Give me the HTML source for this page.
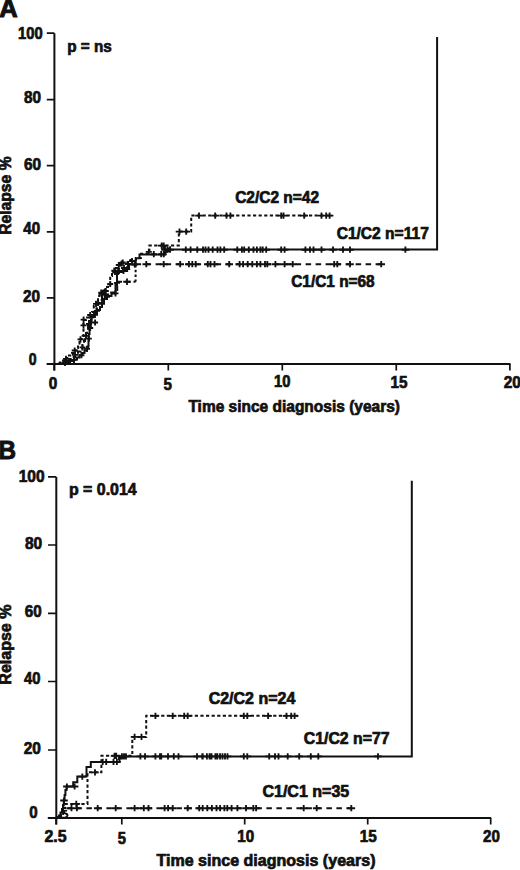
<!DOCTYPE html>
<html><head><meta charset="utf-8"><style>
html,body{margin:0;padding:0;background:#fff;}
body{width:520px;height:870px;overflow:hidden;}
svg{display:block;}
</style></head><body>
<svg width="520" height="870" viewBox="0 0 520 870" font-family='"Liberation Sans", sans-serif' font-weight="bold" fill="#111">
<path d="M54.4,33.3V370.5M46.7,364.0H510.5" stroke="#111" stroke-width="2.0" fill="none"/>
<path d="M46.8,33.2H54.4M46.8,99.6H54.4M46.8,165.6H54.4M46.8,231.8H54.4M46.8,297.8H54.4M46.8,364.0H54.4M54.2,364.0V370.5M168.3,364.0V370.5M282.3,364.0V370.5M396.25,364.0V370.5M509.9,364.0V370.5" stroke="#111" stroke-width="1.7" fill="none"/>
<text x="18.09" y="38.60" font-size="16" textLength="24.61" lengthAdjust="spacingAndGlyphs" stroke="#111" stroke-width="0.7">100</text>
<text x="24.11" y="103.30" font-size="16" textLength="17.01" lengthAdjust="spacingAndGlyphs" stroke="#111" stroke-width="0.7">80</text>
<text x="24.05" y="169.70" font-size="16" textLength="17.07" lengthAdjust="spacingAndGlyphs" stroke="#111" stroke-width="0.7">60</text>
<text x="23.26" y="234.40" font-size="16" textLength="16.75" lengthAdjust="spacingAndGlyphs" stroke="#111" stroke-width="0.7">40</text>
<text x="22.98" y="301.80" font-size="16" textLength="17.04" lengthAdjust="spacingAndGlyphs" stroke="#111" stroke-width="0.7">20</text>
<text x="28.64" y="364.60" font-size="16" textLength="7.83" lengthAdjust="spacingAndGlyphs" stroke="#111" stroke-width="0.7">0</text>
<text x="48.79" y="388.70" font-size="16" textLength="8.53" lengthAdjust="spacingAndGlyphs" stroke="#111" stroke-width="0.7">0</text>
<text x="163.62" y="389.90" font-size="16" textLength="8.41" lengthAdjust="spacingAndGlyphs" stroke="#111" stroke-width="0.7">5</text>
<text x="273.99" y="387.30" font-size="16" textLength="16.41" lengthAdjust="spacingAndGlyphs" stroke="#111" stroke-width="0.7">10</text>
<text x="390.55" y="387.90" font-size="16" textLength="16.98" lengthAdjust="spacingAndGlyphs" stroke="#111" stroke-width="0.7">15</text>
<text x="503.68" y="387.90" font-size="16" textLength="17.15" lengthAdjust="spacingAndGlyphs" stroke="#111" stroke-width="0.7">20</text>
<path d="M54.2,364.0H60.0V363.5H65.0V362.5H70.0V361.0H74.0V359.5H77.0V357.5H79.5V355.2H82.0V353.0H84.5V350.5H87.0V348.0H88.0V346.5H88.5V340.0H88.8V334.0H89.5V328.0H90.8V322.0H91.5V316.0H94.0V313.0H97.0V310.0H100.0V307.0H102.0V303.0H104.0V299.0H107.0V296.0H111.5V293.5H115.5V284.0H117.0V272.0H123.0V269.0H129.0V264.5H135.7V258.2H139.5V254.4H165.0V249.6H437.1V37.0" stroke="#111" stroke-width="2.0" fill="none"/>
<path d="M54.2,364.0H57.0V363.5H60.0V362.5H63.0V360.5H66.0V358.0H69.0V355.5H72.0V353.0H74.5V350.5H76.5V348.0H78.0V345.0H79.5V342.0H80.5V339.0H82.6V336.0H83.5V320.0H86.0V317.5H89.0V315.0H92.0V312.0H93.8V306.0H96.0V301.0H98.0V296.0H99.5V293.0H102.0V290.0H105.0V287.0H108.0V285.0H110.2V276.0H112.0V272.0H115.0V268.0H118.0V265.5H122.0V262.5H128.0V260.0H136.0V258.0H141.0V253.8H149.4V245.6H178.8V231.6H191.2V215.6H332.0" stroke="#111" stroke-width="2.0" fill="none" stroke-dasharray="3.2 2.4"/>
<path d="M54.2,364.0H59.0V363.5H63.0V362.5H66.0V361.0H69.0V359.0H72.0V357.0H75.0V354.5H78.0V351.5H80.5V348.5H82.5V345.0H84.0V341.0H85.0V337.0H86.0V333.0H87.0V329.0H88.0V325.0H89.0V321.0H91.0V318.0H93.0V315.0H95.0V311.0H96.5V307.0H98.0V303.0H100.0V300.0H102.0V297.0H105.0V294.5H110.0V292.5H117.2V281.8H135.6" stroke="#111" stroke-width="2.0" fill="none" stroke-dasharray="5.5 3"/>
<path d="M135.6,281.8V264.2" stroke="#111" stroke-width="2.0" fill="none" stroke-dasharray="2.4 2.4"/>
<path d="M135.6,264.2H382.7" stroke="#111" stroke-width="2.0" fill="none" stroke-dasharray="5.5 4.5"/>
<path d="M185.8,246.6V252.8M182.0,249.7H189.6M190.6,246.6V252.8M186.8,249.7H194.4M197.3,246.6V252.8M193.5,249.7H201.1M203.0,246.6V252.8M199.2,249.7H206.8M205.5,246.6V252.8M201.7,249.7H209.3M208.5,246.6V252.8M204.7,249.7H212.3M212.7,246.6V252.8M208.9,249.7H216.5M217.5,246.6V252.8M213.7,249.7H221.3M220.4,246.6V252.8M216.6,249.7H224.2M224.2,246.6V252.8M220.4,249.7H228.0M237.3,246.6V252.8M233.5,249.7H241.1M241.9,246.6V252.8M238.1,249.7H245.7M244.2,246.6V252.8M240.4,249.7H248.0M248.8,246.6V252.8M245.0,249.7H252.6M253.5,246.6V252.8M249.7,249.7H257.3M256.9,246.6V252.8M253.1,249.7H260.7M260.4,246.6V252.8M256.6,249.7H264.2M262.7,246.6V252.8M258.9,249.7H266.5M266.2,246.6V252.8M262.4,249.7H270.0M281.2,246.6V252.8M277.4,249.7H285.0M284.6,246.6V252.8M280.8,249.7H288.4M305.4,246.6V252.8M301.6,249.7H309.2M310.0,246.6V252.8M306.2,249.7H313.8M313.5,246.6V252.8M309.7,249.7H317.3M321.5,246.6V252.8M317.7,249.7H325.3M333.0,246.6V252.8M329.2,249.7H336.8M343.0,246.6V252.8M339.2,249.7H346.8M350.0,246.6V252.8M346.2,249.7H353.8M405.4,246.6V252.8M401.6,249.7H409.2M165.0,246.6V252.8M161.2,249.7H168.8M167.5,246.6V252.8M163.7,249.7H171.3M170.0,246.6V252.8M166.2,249.7H173.8M226.5,212.5V218.7M222.7,215.6H230.3M230.4,212.5V218.7M226.6,215.6H234.2M281.2,212.5V218.7M277.4,215.6H285.0M283.5,212.5V218.7M279.7,215.6H287.3M304.2,212.5V218.7M300.4,215.6H308.0M321.5,212.5V218.7M317.7,215.6H325.3M326.2,212.5V218.7M322.4,215.6H330.0M329.6,212.5V218.7M325.8,215.6H333.4M199.0,212.5V218.7M195.2,215.6H202.8M215.2,212.5V218.7M211.4,215.6H219.0M179.5,228.5V234.7M175.7,231.6H183.3M186.2,228.5V234.7M182.4,231.6H190.0M161.7,242.5V248.7M157.9,245.6H165.5M163.7,242.5V248.7M159.9,245.6H167.5M146.3,261.1V267.3M142.5,264.2H150.1M163.7,261.1V267.3M159.9,264.2H167.5M180.2,261.1V267.3M176.4,264.2H184.0M188.9,261.1V267.3M185.1,264.2H192.7M192.3,261.1V267.3M188.5,264.2H196.1M195.7,261.1V267.3M191.9,264.2H199.5M207.8,261.1V267.3M204.0,264.2H211.6M210.5,261.1V267.3M206.7,264.2H214.3M214.5,261.1V267.3M210.7,264.2H218.3M229.2,261.1V267.3M225.4,264.2H233.0M239.6,261.1V267.3M235.8,264.2H243.4M243.1,261.1V267.3M239.3,264.2H246.9M247.7,261.1V267.3M243.9,264.2H251.5M252.3,261.1V267.3M248.5,264.2H256.1M256.9,261.1V267.3M253.1,264.2H260.7M260.4,261.1V267.3M256.6,264.2H264.2M265.0,261.1V267.3M261.2,264.2H268.8M267.3,261.1V267.3M263.5,264.2H271.1M275.4,261.1V267.3M271.6,264.2H279.2M284.6,261.1V267.3M280.8,264.2H288.4M292.7,261.1V267.3M288.9,264.2H296.5M334.2,261.1V267.3M330.4,264.2H338.0M337.3,261.1V267.3M333.5,264.2H341.1M350.0,261.1V267.3M346.2,264.2H353.8M381.2,261.1V267.3M377.4,264.2H385.0M127.0,278.6V284.8M123.2,281.7H130.8M65.0,359.7V365.9M62.0,362.8H68.0M74.0,356.7V362.9M71.0,359.8H77.0M81.4,352.1V358.3M78.4,355.2H84.4M87.0,345.7V351.9M84.0,348.8H90.0M88.8,335.5V341.7M85.8,338.6H91.8M90.2,324.9V331.1M87.2,328.0H93.2M91.5,314.2V320.4M88.5,317.3H94.5M97.0,307.7V313.9M94.0,310.8H100.0M102.0,300.7V306.9M99.0,303.8H105.0M107.0,293.7V299.9M104.0,296.8H110.0M115.5,290.2V296.4M112.5,293.3H118.5M117.0,279.7V285.9M114.0,282.8H120.0M118.2,268.9V275.1M115.2,272.0H121.2M127.2,265.9V272.1M124.2,269.0H130.2M134.7,261.4V267.6M131.7,264.5H137.7M66.2,357.9V364.1M63.2,361.0H69.2M75.0,351.7V357.9M72.0,354.8H78.0M82.5,344.2V350.4M79.5,347.3H85.5M86.0,332.7V338.9M83.0,335.8H89.0M89.0,320.7V326.9M86.0,323.8H92.0M95.0,311.7V317.9M92.0,314.8H98.0M98.2,299.9V306.1M95.2,303.0H101.2M105.0,291.7V297.9M102.0,294.8H108.0M66.0,355.7V361.9M63.0,358.8H69.0M74.7,347.4V353.6M71.7,350.5H77.7M80.5,336.2V342.4M77.5,339.3H83.5M83.5,322.2V328.4M80.5,325.3H86.5M90.2,311.9V318.1M87.2,315.0H93.2M96.0,300.7V306.9M93.0,303.8H99.0M102.0,289.7V295.9M99.0,292.8H105.0M110.2,280.9V287.1M107.2,284.0H113.2M115.0,268.7V274.9M112.0,271.8H118.0M122.7,259.4V265.6M119.7,262.5H125.7M83.6,316.5V322.7M80.6,319.6H86.6M95.1,319.4V325.6M92.1,322.5H98.1M101.5,289.9V296.1M98.5,293.0H104.5M121.7,260.4V266.6M118.7,263.5H124.7M118.8,261.9V268.1M115.8,265.0H121.8M124.0,264.9V271.1M121.0,268.0H127.0M128.0,260.9V267.1M125.0,264.0H131.0M132.0,257.9V264.1M129.0,261.0H135.0M153.8,251.1V257.3M150.8,254.2H156.8M161.2,251.1V257.3M158.2,254.2H164.2M163.8,251.1V257.3M160.8,254.2H166.8M148.8,248.7V254.9M145.8,251.8H151.8M127.0,278.7V284.9M124.0,281.8H130.0M114.3,267.6V273.8M111.3,270.7H117.3M119.0,267.9V274.1M116.0,271.0H122.0M123.5,267.9V274.1M120.5,271.0H126.5M105.8,287.9V294.1M102.8,291.0H108.8M101.2,289.5V295.7M98.2,292.6H104.2" stroke="#111" stroke-width="1.85" fill="none"/>
<text x="-0.81" y="17.30" font-size="25.7" textLength="18.43" lengthAdjust="spacingAndGlyphs" stroke="#111" stroke-width="1.0">A</text>
<text x="67.19" y="51.50" font-size="16" textLength="44.51" lengthAdjust="spacingAndGlyphs" stroke="#111" stroke-width="0.7">p = ns</text>
<text x="235.15" y="202.60" font-size="16" textLength="83.86" lengthAdjust="spacingAndGlyphs" stroke="#111" stroke-width="0.7">C2/C2 n=42</text>
<text x="336.65" y="238.80" font-size="16" textLength="92.15" lengthAdjust="spacingAndGlyphs" stroke="#111" stroke-width="0.7">C1/C2 n=117</text>
<text x="291.25" y="287.00" font-size="16" textLength="83.40" lengthAdjust="spacingAndGlyphs" stroke="#111" stroke-width="0.7">C1/C1 n=68</text>
<text x="188.41" y="412.30" font-size="16.5" textLength="211.56" lengthAdjust="spacingAndGlyphs" stroke="#111" stroke-width="0.7">Time since diagnosis (years)</text>
<text transform="translate(11.30,234.10) rotate(-90)" x="-0.74" y="0" font-size="16.3" textLength="78.45" lengthAdjust="spacingAndGlyphs" stroke="#111" stroke-width="0.7">Relapse %</text>
<path d="M56.3,477V824.6M47.8,818.1H491.2" stroke="#111" stroke-width="2.0" fill="none"/>
<path d="M48,476.9H56.3M48,545.0H56.3M48,613.4H56.3M48,681.5H56.3M48,750.0H56.3M48,818.1H56.3M56.2,818.1V824.6M121.8,818.1V824.6M244.7,818.1V824.6M367.7,818.1V824.6M490.7,818.1V824.6" stroke="#111" stroke-width="1.7" fill="none"/>
<text x="18.64" y="482.40" font-size="16" textLength="25.89" lengthAdjust="spacingAndGlyphs" stroke="#111" stroke-width="0.7">100</text>
<text x="24.90" y="548.80" font-size="16" textLength="17.22" lengthAdjust="spacingAndGlyphs" stroke="#111" stroke-width="0.7">80</text>
<text x="24.85" y="616.80" font-size="16" textLength="16.86" lengthAdjust="spacingAndGlyphs" stroke="#111" stroke-width="0.7">60</text>
<text x="23.96" y="683.70" font-size="16" textLength="16.43" lengthAdjust="spacingAndGlyphs" stroke="#111" stroke-width="0.7">40</text>
<text x="23.68" y="753.80" font-size="16" textLength="17.15" lengthAdjust="spacingAndGlyphs" stroke="#111" stroke-width="0.7">20</text>
<text x="29.19" y="818.20" font-size="16" textLength="8.41" lengthAdjust="spacingAndGlyphs" stroke="#111" stroke-width="0.7">0</text>
<text x="44.46" y="841.70" font-size="16" textLength="22.09" lengthAdjust="spacingAndGlyphs" stroke="#111" stroke-width="0.7">2.5</text>
<text x="117.73" y="843.50" font-size="16" textLength="8.19" lengthAdjust="spacingAndGlyphs" stroke="#111" stroke-width="0.7">5</text>
<text x="237.26" y="841.70" font-size="16" textLength="16.85" lengthAdjust="spacingAndGlyphs" stroke="#111" stroke-width="0.7">10</text>
<text x="359.65" y="841.70" font-size="16" textLength="16.98" lengthAdjust="spacingAndGlyphs" stroke="#111" stroke-width="0.7">15</text>
<text x="483.09" y="841.70" font-size="16" textLength="16.82" lengthAdjust="spacingAndGlyphs" stroke="#111" stroke-width="0.7">20</text>
<path d="M56.3,818.1H57.5V817.0H59.0V815.5H60.5V812.5H62.0V809.0H63.0V805.0H63.8V800.0H64.6V795.0H65.4V790.0H66.5V786.5H73.2V782.2H77.3V776.6H86.5V766.9H90.8V761.9H119.5V756.4H411.8V480.8" stroke="#111" stroke-width="2.0" fill="none"/>
<path d="M56.3,818.1H58.5V817.0H61.0V815.0H62.5V812.0H64.0V808.0H65.0V804.0H87.5V772.3H101.4V755.8H132.3V736.9H146.2V715.8H298.1" stroke="#111" stroke-width="2.0" fill="none" stroke-dasharray="3.2 2.4"/>
<path d="M56.3,818.1H59.0V816.5H61.5V814.0H63.0V811.0H64.0V808.2H352.0" stroke="#111" stroke-width="2.0" fill="none" stroke-dasharray="5.5 4.5"/>
<path d="M61,817.5 C63,818 67,818 67.5,815.5 C68,813 63.5,814 63.5,812 C63.5,810.5 66,810.5 67,811" stroke="#111" stroke-width="1.85" fill="none"/>
<path d="M118,757 L125,754.5 L125,758.5 L118,760 Z" fill="#111"/>
<path d="M164.3,253.6 L164.3,250.2 L171,245.9 L171,251.6 Z" fill="#111"/>
<path d="M121.9,753.2V759.4M118.1,756.3H125.7M124.0,753.2V759.4M120.2,756.3H127.8M126.0,753.2V759.4M122.2,756.3H129.8M140.4,753.2V759.4M136.6,756.3H144.2M145.0,753.2V759.4M141.2,756.3H148.8M155.4,753.2V759.4M151.6,756.3H159.2M160.0,753.2V759.4M156.2,756.3H163.8M161.2,753.2V759.4M157.4,756.3H165.0M168.0,753.2V759.4M164.2,756.3H171.8M173.8,753.2V759.4M170.0,756.3H177.6M178.5,753.2V759.4M174.7,756.3H182.3M197.0,753.2V759.4M193.2,756.3H200.8M202.7,753.2V759.4M198.9,756.3H206.5M209.6,753.2V759.4M205.8,756.3H213.4M215.4,753.2V759.4M211.6,756.3H219.2M202.3,753.2V759.4M198.5,756.3H206.1M206.9,753.2V759.4M203.1,756.3H210.7M211.5,753.2V759.4M207.7,756.3H215.3M217.3,753.2V759.4M213.5,756.3H221.1M220.0,753.2V759.4M216.2,756.3H223.8M222.5,753.2V759.4M218.7,756.3H226.3M225.0,753.2V759.4M221.2,756.3H228.8M227.5,753.2V759.4M223.7,756.3H231.3M243.8,753.2V759.4M240.0,756.3H247.6M247.3,753.2V759.4M243.5,756.3H251.1M269.2,753.2V759.4M265.4,756.3H273.0M275.0,753.2V759.4M271.2,756.3H278.8M278.5,753.2V759.4M274.7,756.3H282.3M287.7,753.2V759.4M283.9,756.3H291.5M299.2,753.2V759.4M295.4,756.3H303.0M310.8,753.2V759.4M307.0,756.3H314.6M318.3,753.2V759.4M314.5,756.3H322.1M378.0,753.2V759.4M374.2,756.3H381.8M155.4,712.7V718.9M151.6,715.8H159.2M172.7,712.7V718.9M168.9,715.8H176.5M184.2,712.7V718.9M180.4,715.8H188.0M187.7,712.7V718.9M183.9,715.8H191.5M243.8,712.7V718.9M240.0,715.8H247.6M247.3,712.7V718.9M243.5,715.8H251.1M268.1,712.7V718.9M264.3,715.8H271.9M286.5,712.7V718.9M282.7,715.8H290.3M291.2,712.7V718.9M287.4,715.8H295.0M294.6,712.7V718.9M290.8,715.8H298.4M134.6,733.8V740.0M130.8,736.9H138.4M141.5,733.8V740.0M137.7,736.9H145.3M71.5,805.1V811.3M67.7,808.2H75.3M76.9,805.1V811.3M73.1,808.2H80.7M97.7,805.1V811.3M93.9,808.2H101.5M115.7,805.1V811.3M111.9,808.2H119.5M134.6,805.1V811.3M130.8,808.2H138.4M143.8,805.1V811.3M140.0,808.2H147.6M148.5,805.1V811.3M144.7,808.2H152.3M164.6,805.1V811.3M160.8,808.2H168.4M168.1,805.1V811.3M164.3,808.2H171.9M172.7,805.1V811.3M168.9,808.2H176.5M187.7,805.1V811.3M183.9,808.2H191.5M199.2,805.1V811.3M195.4,808.2H203.0M202.7,805.1V811.3M198.9,808.2H206.5M207.3,805.1V811.3M203.5,808.2H211.1M211.9,805.1V811.3M208.1,808.2H215.7M216.5,805.1V811.3M212.7,808.2H220.3M220.1,805.1V811.3M216.3,808.2H223.9M224.4,805.1V811.3M220.6,808.2H228.2M227.3,805.1V811.3M223.5,808.2H231.1M231.6,805.1V811.3M227.8,808.2H235.4M237.4,805.1V811.3M233.6,808.2H241.2M246.0,805.1V811.3M242.2,808.2H249.8M253.3,805.1V811.3M249.5,808.2H257.1M256.1,805.1V811.3M252.3,808.2H259.9M303.7,805.1V811.3M299.9,808.2H307.5M316.7,805.1V811.3M312.9,808.2H320.5M351.3,805.1V811.3M347.5,808.2H355.1M102.7,758.8V765.0M98.9,761.9H106.5M106.2,758.8V765.0M102.4,761.9H110.0M113.5,758.8V765.0M109.7,761.9H117.3M116.9,758.8V765.0M113.1,761.9H120.7M114.6,752.7V758.9M110.8,755.8H118.4M116.2,752.7V758.9M112.4,755.8H120.0M66.9,783.4V789.6M63.1,786.5H70.7M74.6,783.4V789.6M70.8,786.5H78.4M82.3,773.5V779.7M78.5,776.6H86.1M95.0,769.2V775.4M91.2,772.3H98.8M76.3,800.8V807.0M72.5,803.9H80.1M64.0,797.4V803.6M60.2,800.5H67.8" stroke="#111" stroke-width="1.85" fill="none"/>
<text x="-1.55" y="458.80" font-size="25.7" textLength="17.52" lengthAdjust="spacingAndGlyphs" stroke="#111" stroke-width="1.0">B</text>
<text x="68.95" y="495.20" font-size="16" textLength="67.66" lengthAdjust="spacingAndGlyphs" stroke="#111" stroke-width="0.7">p = 0.014</text>
<text x="208.63" y="703.60" font-size="16" textLength="86.66" lengthAdjust="spacingAndGlyphs" stroke="#111" stroke-width="0.7">C2/C2 n=24</text>
<text x="303.84" y="743.60" font-size="16" textLength="85.65" lengthAdjust="spacingAndGlyphs" stroke="#111" stroke-width="0.7">C1/C2 n=77</text>
<text x="262.43" y="797.20" font-size="16" textLength="86.81" lengthAdjust="spacingAndGlyphs" stroke="#111" stroke-width="0.7">C1/C1 n=35</text>
<text x="156.46" y="866.30" font-size="16.5" textLength="219.04" lengthAdjust="spacingAndGlyphs" stroke="#111" stroke-width="0.7">Time since diagnosis (years)</text>
<text transform="translate(11.30,683.90) rotate(-90)" x="-0.76" y="0" font-size="16.3" textLength="80.08" lengthAdjust="spacingAndGlyphs" stroke="#111" stroke-width="0.7">Relapse %</text>
</svg>
</body></html>
